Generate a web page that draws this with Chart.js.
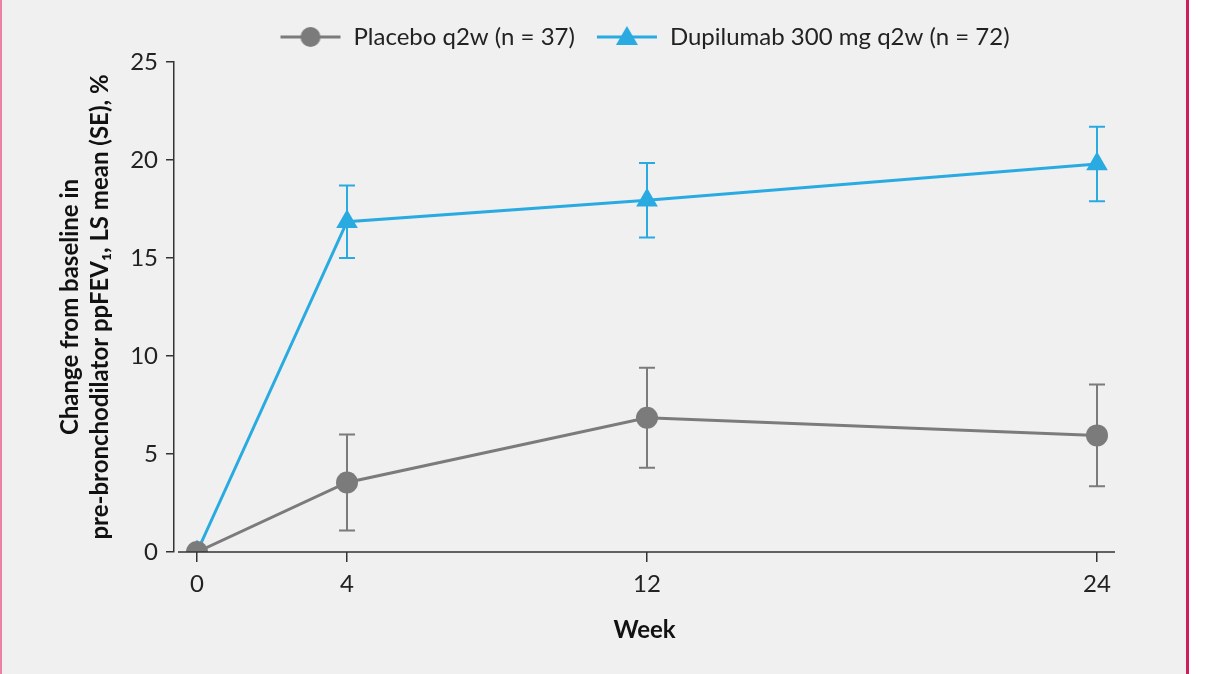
<!DOCTYPE html>
<html>
<head>
<meta charset="utf-8">
<script src="https://cdn.jsdelivr.net/npm/chart.js@4.4.1/dist/chart.umd.min.js"></script>
<style>
  html, body { margin: 0; padding: 0; background: #ffffff; }
  .panel {
    position: absolute; left: 0; top: 0; width: 1184px; height: 674px;
    background: #f0f0f0; border-left: 2px solid #ec7fa5; border-right: 3px solid #d01c5b;
  }
  .wrap { position: absolute; left: 0; top: 0; width: 1209px; height: 674px; }
</style>
</head>
<body>
<div class="panel"></div>
<div class="wrap"><canvas id="myChart" width="1209" height="674"></canvas></div>
<script>
// weeks on the x axis
const weeks = [0, 4, 12, 24];
const xTicks = [0, 4, 12, 24];
const yTicks = [0, 5, 10, 15, 20, 25];

// LS mean change and SE
const placeboMean = [0, 3.55, 6.85, 5.95];
const placeboSE = [0, 2.45, 2.55, 2.6];
const dupiMean = [0, 16.85, 17.95, 19.8];
const dupiSE = [0, 1.85, 1.9, 1.9];

const labels = ["Placebo q2w (n = 37)", "Dupilumab 300 mg q2w (n = 72)"];

const GRAY = "#7b7b7b";
const BLUE = "#29abe2";
const FONT = "Lato";

// legend icon: short line with marker in the middle
function legendIcon(color, shape) {
  let c = document.createElement("canvas");
  c.width = 62;
  c.height = 26;
  let g = c.getContext("2d");
  g.strokeStyle = color;
  g.fillStyle = color;
  g.lineWidth = 3;
  g.beginPath();
  g.moveTo(1, 13);
  g.lineTo(61, 13);
  g.stroke();
  g.beginPath();
  if (shape === "circle") {
    g.arc(31, 13, 10, 0, Math.PI * 2);
  } else {
    g.moveTo(31, 2);
    g.lineTo(42, 21);
    g.lineTo(20, 21);
    g.closePath();
  }
  g.fill();
  return c;
}

const errorBars = {
  id: "errorBars",
  afterLayout(chart) {
    // nudge the legend row up a bit, plot area stays put
    chart.legend.top -= 3;
    chart.legend.bottom -= 3;
  },
  beforeDatasetsDraw(chart) {
    let ctx = chart.ctx;
    let xs = chart.scales.x;
    let ys = chart.scales.y;
    let sets = [[placeboMean, placeboSE, GRAY], [dupiMean, dupiSE, BLUE]];
    ctx.save();
    sets.forEach(([mean, se, color]) => {
      ctx.strokeStyle = color;
      ctx.lineWidth = 2;
      weeks.forEach((w, i) => {
        if (!se[i]) return;
        let x = xs.getPixelForValue(w);
        let top = ys.getPixelForValue(mean[i] + se[i]);
        let bot = ys.getPixelForValue(mean[i] - se[i]);
        ctx.beginPath();
        ctx.moveTo(x, top);
        ctx.lineTo(x, bot);
        ctx.moveTo(x - 8, top);
        ctx.lineTo(x + 8, top);
        ctx.moveTo(x - 8, bot);
        ctx.lineTo(x + 8, bot);
        ctx.stroke();
      });
    });
    ctx.restore();
  },
  afterDraw(chart) {
    // x axis line, starts a little right of the y axis
    let ctx = chart.ctx;
    let a = chart.chartArea;
    ctx.save();
    ctx.strokeStyle = "#333";
    ctx.lineWidth = 1.5;
    ctx.beginPath();
    ctx.moveTo(a.left + 4, a.bottom);
    ctx.lineTo(a.right, a.bottom);
    ctx.stroke();
    ctx.restore();
  }
};

var ctx = document.getElementById("myChart");
var myChart = new Chart(ctx, {
  type: "line",
  data: {
    datasets: [
      {
        label: labels[0],
        data: weeks.map((w, i) => ({ x: w, y: placeboMean[i] })),
        borderColor: GRAY,
        backgroundColor: GRAY,
        borderWidth: 3,
        pointStyle: "circle",
        pointRadius: 11,
        pointHoverRadius: 11,
        pointBorderWidth: 0
      },
      {
        label: labels[1],
        data: weeks.map((w, i) => ({ x: w, y: dupiMean[i] })),
        borderColor: BLUE,
        backgroundColor: BLUE,
        borderWidth: 3,
        pointStyle: "triangle",
        pointRadius: 12.5,
        pointHoverRadius: 12.5,
        pointBorderWidth: 0
      }
    ]
  },
  options: {
    responsive: false,
    animation: false,
    layout: { padding: { top: 7, left: 40, right: 94, bottom: 0 } },
    plugins: {
      tooltip: { enabled: false },
      legend: {
        position: "top",
        fullSize: false,
        labels: {
          usePointStyle: true,
          pointStyleWidth: 62,
          padding: 21,
          color: "#222",
          font: { family: FONT, size: 24 },
          generateLabels: (chart) => [
            { text: labels[0], pointStyle: legendIcon(GRAY, "circle"), datasetIndex: 0, fontColor: "#222" },
            { text: labels[1], pointStyle: legendIcon(BLUE, "triangle"), datasetIndex: 1, fontColor: "#222" }
          ]
        }
      }
    },
    scales: {
      x: {
        type: "linear",
        min: -0.6133,
        max: 24.48,
        afterBuildTicks: (s) => { s.ticks = xTicks.map((v) => ({ value: v })); },
        afterFit: (s) => { s.height = 122; },
        ticks: { color: "#222", font: { family: FONT, size: 24 }, padding: 8 },
        grid: { drawOnChartArea: false, tickLength: 10, color: "#333", lineWidth: 1.5 },
        border: { display: false },
        title: {
          display: true,
          text: "Week",
          color: "#111",
          font: { family: FONT, size: 24, weight: "bold" },
          padding: { top: 0, bottom: 29 }
        }
      },
      y: {
        min: 0,
        max: 25,
        afterBuildTicks: (s) => { s.ticks = yTicks.map((v) => ({ value: v })); },
        afterFit: (s) => { s.width = 134; },
        ticks: { color: "#222", font: { family: FONT, size: 24 }, padding: 8 },
        grid: { drawOnChartArea: false, tickLength: 8, color: "#333", lineWidth: 1.5 },
        border: { display: true, color: "#333", width: 1.5 },
        title: {
          display: true,
          text: ["Change from baseline in", "pre-bronchodilator ppFEV\u2081, LS mean (SE), %"],
          color: "#111",
          font: { family: FONT, size: 24, weight: "bold", lineHeight: 1.25 },
          padding: { top: 15, bottom: 0 }
        }
      }
    }
  },
  plugins: [errorBars]
});
</script>
</body>
</html>
